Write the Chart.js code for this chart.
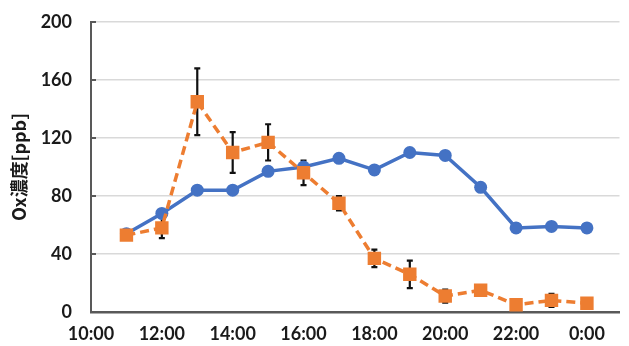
<!DOCTYPE html>
<html>
<head>
<meta charset="utf-8">
<script src="https://cdn.jsdelivr.net/npm/chart.js@4"></script>
<style>
  html, body { margin: 0; padding: 0; background: #fff; }
  #wrap { width: 629px; height: 346px; position: relative; }
</style>
</head>
<body>
<div id="wrap"><canvas id="chart"></canvas></div>
<script>
// hour of day (24 = 0:00 next day)
const hours = [11, 12, 13, 14, 15, 16, 17, 18, 19, 20, 21, 22, 23, 24];
const oxBlue = [54, 68, 84, 84, 97, 100, 106, 98, 110, 108, 86, 58, 59, 58];
const oxOrange = [53, 58, 145, 110, 117, 96, 75, 37, 26, 11, 15, 5, 8, 6];
const orangeErr = [2, 7, 23, 14, 12.5, 8.5, 5, 6, 9.5, 4.5, 2, 2, 4.5, 2];

const xTickHours = [10, 12, 14, 16, 18, 20, 22, 24];
const xTickLabels = ["10:00", "12:00", "14:00", "16:00", "18:00", "20:00", "22:00", "0:00"];
const yTicks = [0, 40, 80, 120, 160, 200];

const axisColor = "#595959";

const errorBars = {
  id: "errorBars",
  beforeDatasetsDraw(chart) {
    const xs = chart.scales.x;
    const ys = chart.scales.y;
    const ctx = chart.ctx;
    ctx.save();
    ctx.strokeStyle = "#111";
    ctx.lineWidth = 2.2;
    hours.forEach((h, i) => {
      const x = xs.getPixelForValue(h);
      const top = ys.getPixelForValue(oxOrange[i] + orangeErr[i]);
      const bot = ys.getPixelForValue(oxOrange[i] - orangeErr[i]);
      ctx.beginPath();
      ctx.moveTo(x, top); ctx.lineTo(x, bot);
      ctx.moveTo(x - 3, top); ctx.lineTo(x + 3, top);
      ctx.moveTo(x - 3, bot); ctx.lineTo(x + 3, bot);
      ctx.stroke();
    });
    // short inner tick marks on the value axis
    ctx.strokeStyle = axisColor;
    ctx.lineWidth = 2;
    const left = chart.chartArea.left;
    yTicks.forEach(v => {
      const y = ys.getPixelForValue(v);
      ctx.beginPath();
      ctx.moveTo(left, y); ctx.lineTo(left + 5, y);
      ctx.stroke();
    });
    ctx.restore();
  }
};

const labelFont = { family: "Lato", size: 18, weight: "bold" };

new Chart(document.getElementById("chart"), {
  type: "line",
  data: {
    datasets: [
      {
        label: "orange",
        data: hours.map((h, i) => ({ x: h, y: oxOrange[i] })),
        borderColor: "#ED7D31",
        backgroundColor: "#ED7D31",
        borderWidth: 3.5,
        borderDash: [9, 5],
        pointStyle: "rect",
        pointRadius: 9.5,
        pointBorderWidth: 0,
        order: 0
      },
      {
        label: "blue",
        data: hours.map((h, i) => ({ x: h, y: oxBlue[i] })),
        borderColor: "#4472C4",
        backgroundColor: "#4472C4",
        borderWidth: 3.5,
        pointStyle: "circle",
        pointRadius: 6.5,
        pointBorderWidth: 0,
        order: 1
      }
    ]
  },
  options: {
    responsive: true,
    maintainAspectRatio: false,
    animation: false,
    layout: { padding: { top: 22, right: 0, left: 0, bottom: 0 } },
    plugins: {
      legend: { display: false },
      tooltip: { enabled: false }
    },
    scales: {
      x: {
        type: "linear",
        min: 10,
        max: 24.92,
        afterBuildTicks: axis => {
          axis.ticks = xTickHours.map(v => ({ value: v }));
        },
        afterFit: axis => { axis.height = 34; },
        grid: { display: false, drawTicks: false },
        border: { color: axisColor, width: 2.5 },
        ticks: {
          padding: 11,
          color: "#1a1a1a",
          font: labelFont,
          maxRotation: 0,
          autoSkip: false,
          callback: v => {
            const k = xTickHours.indexOf(v);
            return k >= 0 ? xTickLabels[k] : "";
          }
        }
      },
      y: {
        min: 0,
        max: 200,
        afterBuildTicks: axis => {
          axis.ticks = yTicks.map(v => ({ value: v }));
        },
        afterFit: axis => {
          axis.width = 91;
          axis.paddingTop = 0;
          axis.paddingBottom = 0;
        },
        grid: { color: "#d9d9d9", lineWidth: 1.5, drawTicks: false },
        border: { color: axisColor, width: 2 },
        ticks: {
          padding: 19,
          color: "#1a1a1a",
          font: labelFont
        },
        title: {
          display: true,
          text: "Ox濃度[ppb]",
          color: "#1a1a1a",
          font: { family: "Noto Sans CJK JP", size: 18, weight: "bold" },
          padding: { top: 8, bottom: 0 }
        }
      }
    }
  },
  plugins: [errorBars]
});
</script>
</body>
</html>
